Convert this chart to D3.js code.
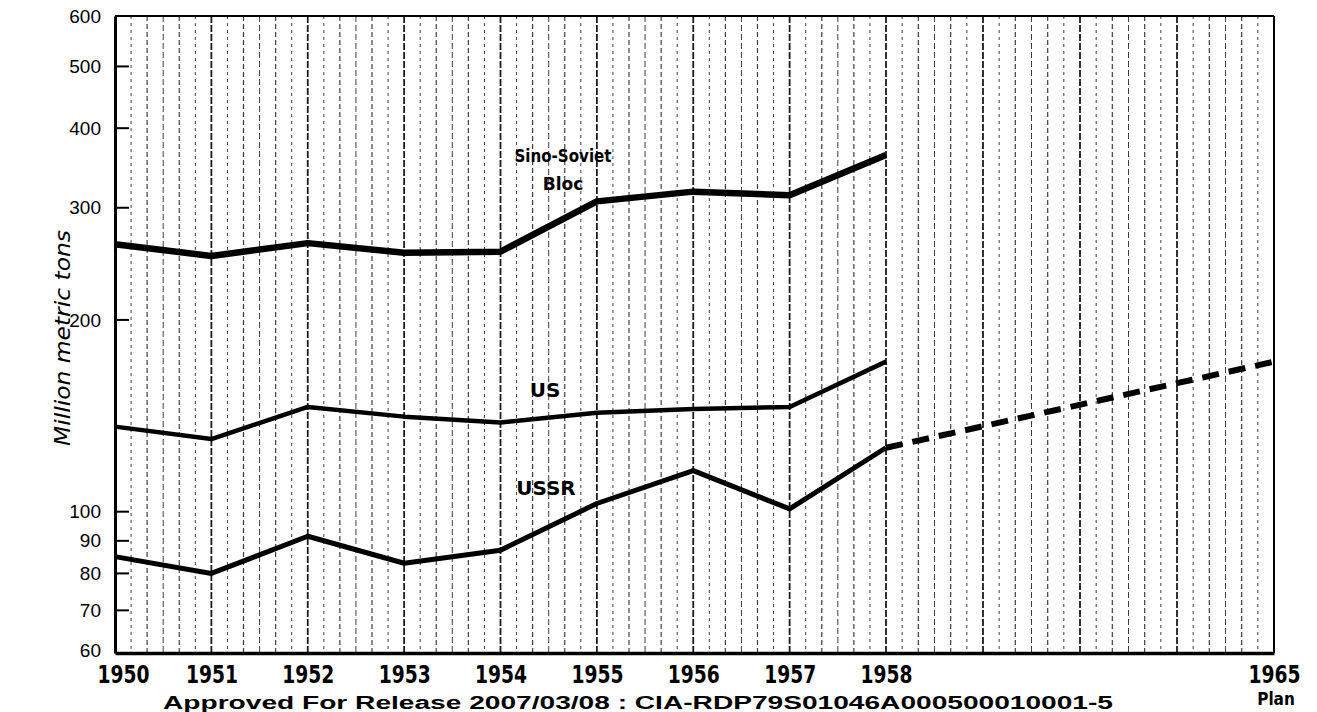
<!DOCTYPE html>
<html>
<head>
<meta charset="utf-8">
<script src="https://cdn.jsdelivr.net/npm/d3@7"></script>
<style>
  body { margin: 0; background: #fff; }
  svg { display: block; }
</style>
</head>
<body>
<div class="chart"></div>
<script>
// values (million metric tons)
const years = [1950, 1951, 1952, 1953, 1954, 1955, 1956, 1957, 1958]
const sinoSoviet = [263, 252, 264, 255, 256, 307, 318, 314, 363]
const us = [136, 130, 146, 141, 138, 143, 145, 146, 172]
const ussr = [85, 80, 91.5, 83, 87, 103, 116, 101, 126]
const ussrPlanYears = [1958, 1965]
const ussrPlan = [126, 172]

const yTicks = [60, 70, 80, 90, 100, 200, 300, 400, 500, 600]
const xTickYears = [1950, 1951, 1952, 1953, 1954, 1955, 1956, 1957, 1958, 1965]

const W = 1317, H = 712
const margin = {top: 16, right: 43, bottom: 59, left: 115}

const svg = d3.select('.chart').append('svg')
    .attr('width', W)
    .attr('height', H)

// 1958 -> 1965 is squeezed on the original
const x = d3.scaleLinear()
    .domain([1950, 1958, 1965])
    .range([margin.left, 886, W - margin.right])

const y = d3.scaleLog()
    .domain([60, 600])
    .range([H - margin.bottom, margin.top])

// vertical grid: 6 per year before 1958, 24 even steps to 1965
const grid = []
for (let i = 1; i < 72; i++) {
    const yr = i <= 48 ? 1950 + i / 6 : 1958 + (i - 48) * 7 / 24
    grid.push({i: i, yr: yr})
}

svg.append('g').attr('class', 'grid')
    .selectAll('line')
    .data(grid)
    .join('line')
    .attr('x1', d => x(d.yr))
    .attr('x2', d => x(d.yr))
    .attr('y1', y(600))
    .attr('y2', y(60))
    .attr('stroke', '#111')
    .attr('stroke-width', d => d.i % 6 == 0 ? 1.8 : (d.i % 2 == 0 ? 1.2 : 1))
    .attr('stroke-dasharray', d => d.i % 6 == 0 ? '7,2' : (d.i % 3 == 0 ? '6,3' : (d.i % 2 == 0 ? '5,3' : '3,4')))
    .attr('opacity', d => d.i % 6 == 0 ? 0.95 : 0.8)

// frame
svg.append('line')
    .attr('x1', x(1950)).attr('x2', x(1965))
    .attr('y1', y(600)).attr('y2', y(600))
    .attr('stroke', '#000').attr('stroke-width', 2)
svg.append('line')
    .attr('x1', x(1965)).attr('x2', x(1965))
    .attr('y1', y(600)).attr('y2', y(60))
    .attr('stroke', '#000').attr('stroke-width', 2)

// y axis
const yAxis = d3.axisLeft(y)
    .tickValues(yTicks)
    .tickFormat(d3.format('d'))
    .tickSize(0)
    .tickPadding(14)

const gy = svg.append('g')
    .attr('transform', `translate(${margin.left},0)`)
    .call(yAxis)
gy.select('.domain').attr('stroke', '#000').attr('stroke-width', 3)
gy.selectAll('text')
    .style('font-family', 'Liberation Sans, Arial, sans-serif')
    .style('font-size', '19px')
    .attr('fill', '#000')
gy.selectAll('.tick text').filter(d => d == 60).attr('dy', '0.2em')

// inward tick marks
svg.append('g')
    .selectAll('line')
    .data(yTicks.filter(d => d > 60 && d < 600))
    .join('line')
    .attr('x1', margin.left)
    .attr('x2', margin.left + 14)
    .attr('y1', d => y(d))
    .attr('y2', d => y(d))
    .attr('stroke', '#000')
    .attr('stroke-width', 2)

// x axis
const xAxis = d3.axisBottom(x)
    .tickValues(xTickYears)
    .tickFormat(d3.format('d'))
    .tickSize(0)
    .tickPadding(12)

const gx = svg.append('g')
    .attr('transform', `translate(0,${y(60)})`)
    .call(xAxis)
gx.select('.domain').attr('stroke', '#000').attr('stroke-width', 3.5)
gx.selectAll('text')
    .attr('dy', 0)
    .attr('y', 30)
    .attr('x', d => d == 1950 ? 8 : 0)
    .attr('textLength', 52)
    .attr('lengthAdjust', 'spacingAndGlyphs')
    .style('font-family', 'DejaVu Sans Condensed, DejaVu Sans, sans-serif')
    .style('font-weight', 'bold')
    .style('font-size', '24px')
    .attr('fill', '#000')

svg.append('text')
    .attr('x', x(1965) + 2)
    .attr('y', 705)
    .attr('text-anchor', 'middle')
    .style('font-family', 'DejaVu Sans Condensed, DejaVu Sans, sans-serif')
    .style('font-weight', 'bold')
    .style('font-size', '17px')
    .text('Plan')

// lines
const line = d3.line()
    .x(d => x(d[0]))
    .y(d => y(d[1]))

function drawSeries(xs, vals, w, dash) {
    svg.append('path')
        .datum(xs.map((yr, k) => [yr, vals[k]]))
        .attr('d', line)
        .attr('fill', 'none')
        .attr('stroke', '#000')
        .attr('stroke-width', w)
        .attr('stroke-linejoin', 'round')
        .attr('stroke-dasharray', dash)
}

drawSeries(years, sinoSoviet, 6.5, null)
drawSeries(years, us, 4.5, null)
drawSeries(years, ussr, 5, null)
drawSeries(ussrPlanYears, ussrPlan, 6, '17,10')

// series labels
const labelStyle = sel => sel
    .attr('text-anchor', 'middle')
    .style('font-family', 'DejaVu Sans, sans-serif')
    .style('font-weight', 'bold')
    .style('font-size', '17px')
    .attr('fill', '#000')

svg.append('text').attr('x', 563).attr('y', 162).text('Sino-Soviet').call(labelStyle)
    .attr('textLength', 97).attr('lengthAdjust', 'spacingAndGlyphs')
svg.append('text').attr('x', 563).attr('y', 190).text('Bloc').call(labelStyle)
svg.append('text').attr('x', 545).attr('y', 397).text('US').call(labelStyle).style('font-size', '20px')
svg.append('text').attr('x', 546).attr('y', 495).text('USSR').call(labelStyle).style('font-size', '20px')

// y title
svg.append('text')
    .attr('transform', 'translate(70,338) rotate(-90)')
    .attr('text-anchor', 'middle')
    .style('font-family', 'DejaVu Sans, sans-serif')
    .style('font-style', 'italic')
    .style('font-size', '21px')
    .attr('textLength', 216)
    .attr('lengthAdjust', 'spacingAndGlyphs')
    .text('Million metric tons')

// release stamp along the bottom of the scan
svg.append('text')
    .attr('x', 163)
    .attr('y', 709)
    .attr('textLength', 950)
    .attr('lengthAdjust', 'spacingAndGlyphs')
    .style('font-family', 'Liberation Sans, Arial, sans-serif')
    .style('font-weight', 'bold')
    .style('font-size', '18px')
    .text('Approved For Release 2007/03/08 : CIA-RDP79S01046A000500010001-5')
</script>
</body>
</html>
